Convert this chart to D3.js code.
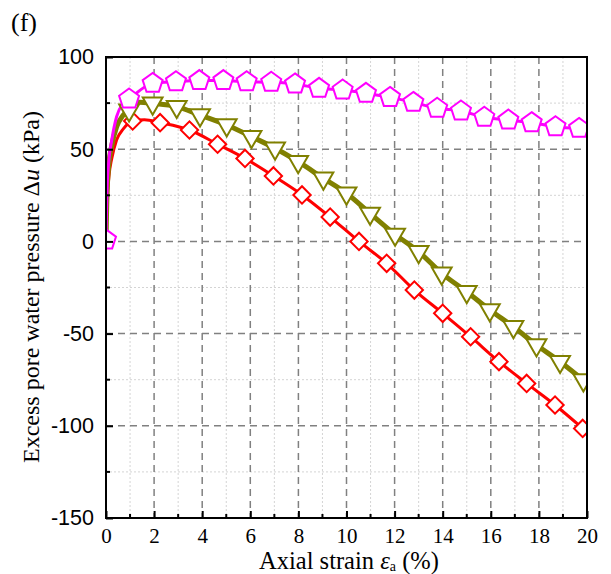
<!DOCTYPE html>
<html><head><meta charset="utf-8">
<script src="https://cdn.jsdelivr.net/npm/d3@7"></script>
<style>body{margin:0;background:#fff}svg{display:block}</style>
</head><body>
<script>
// ---- data ----
const xTicks = [0,2,4,6,8,10,12,14,16,18,20];
const yTicks = [-150,-100,-50,0,50,100];

// magenta pentagons
const magStartX = [0, 0.02, 0.05, 0.12, 0.24, 0.44, 0.72];
const magStartY = [0.8, 15, 30, 44, 55, 67.6, 74.9];
const magX = [0, 0.96, 1.94, 2.91, 3.88, 4.88, 5.85, 6.87, 7.86, 8.86, 9.84, 10.81, 11.81, 12.78, 13.77, 14.76, 15.73, 16.73, 17.7, 18.69, 19.67];
const magY = [0.8, 77.2, 85.7, 86.6, 87.2, 87.2, 86.6, 86.3, 85.4, 83.0, 82.1, 80.3, 78.1, 75.4, 72.2, 70.7, 67.3, 65.8, 64.4, 62.2, 61.3];

// olive triangles
const oliStartX = [0, 0.02, 0.05, 0.12, 0.24, 0.44, 0.72, 0.96, 1.4];
const oliStartY = [-2, 14, 28, 42, 52, 62, 68.5, 71.5, 75.5];
const oliX = [0.96, 1.94, 2.94, 3.91, 5.02, 6.05, 7.03, 7.99, 9.04, 10.0, 10.98, 12.02, 13.0, 13.96, 15.0, 15.96, 16.94, 17.9, 18.88, 19.85];
const oliY = [71.2, 74.9, 73.1, 68.5, 63.1, 56.8, 50.5, 43.2, 34.2, 26.1, 15.2, 3.8, -5.6, -17.3, -27.3, -37.2, -46.3, -56.2, -65.2, -75.2];

// red diamonds
const redStartX = [0, 0.02, 0.05, 0.12, 0.24, 0.44, 0.72, 1.11, 1.6];
const redStartY = [0, 10, 22, 35, 45, 55, 61, 65.3, 66];
const redX = [1.11, 2.25, 3.47, 4.64, 5.78, 6.96, 8.15, 9.32, 10.52, 11.67, 12.82, 14.0, 15.16, 16.34, 17.49, 18.67, 19.82];
const redY = [65.3, 64.4, 60.4, 52.7, 45.0, 35.5, 25.2, 13.2, 0, -11.9, -26.4, -39.0, -51.7, -65.2, -77.0, -88.7, -101.4];

// ---- layout ----
const W = 611, H = 574;
const L = 106, R = 587, T = 57, B = 518;
const svg = d3.select("body").append("svg").attr("width", W).attr("height", H);
const x = d3.scaleLinear().domain([0,20]).range([L,R]);
const y = d3.scaleLinear().domain([-150,100]).range([B,T]);

// grid
const g = svg.append("g");
const minorX = d3.range(1,20,2), minorY = d3.range(-125,100,50);
g.selectAll(".mx").data(minorX).enter().append("line")
  .attr("x1", d=>x(d)).attr("x2", d=>x(d)).attr("y1", T).attr("y2", B)
  .attr("stroke","#d4d4d4").attr("stroke-width",1).attr("stroke-dasharray","2,2");
g.selectAll(".my").data(minorY).enter().append("line")
  .attr("y1", d=>y(d)).attr("y2", d=>y(d)).attr("x1", L).attr("x2", R)
  .attr("stroke","#d4d4d4").attr("stroke-width",1).attr("stroke-dasharray","2,2");
g.selectAll(".Mx").data(xTicks.slice(1,-1)).enter().append("line")
  .attr("x1", d=>x(d)).attr("x2", d=>x(d)).attr("y1", T).attr("y2", B)
  .attr("stroke","#808080").attr("stroke-width",1.5).attr("stroke-dasharray","7,5");
g.selectAll(".My").data(yTicks.slice(1,-1)).enter().append("line")
  .attr("y1", d=>y(d)).attr("y2", d=>y(d)).attr("x1", L).attr("x2", R)
  .attr("stroke","#808080").attr("stroke-width",1.5).attr("stroke-dasharray","7,5");

// series
svg.append("clipPath").attr("id","c").append("rect")
  .attr("x", L).attr("y", T).attr("width", R-L).attr("height", B-T);
const plot = svg.append("g").attr("clip-path","url(#c)");
const line = d3.line().x(d=>x(d[0])).y(d=>y(d[1])).curve(d3.curveMonotoneX);

function pts(sx, sy, mx, my){
  const a = sx.map((v,i)=>[v, sy[i]]);
  const last = sx[sx.length-1];
  mx.forEach((v,i)=>{ if (v > last) a.push([v, my[i]]); });
  return a;
}
const series = [
  {sx:redStartX, sy:redStartY, mx:redX, my:redY, color:"#ff0000", lw:3, sym:d3.symbolSquare, size:150, rot:45},
  {sx:oliStartX, sy:oliStartY, mx:oliX, my:oliY, color:"#808000", lw:5, sym:d3.symbolTriangle, size:170, rot:180},
  {sx:magStartX, sy:magStartY, mx:magX, my:magY, color:"#ff00ff", lw:3, sym:null, size:0, rot:0}
];
function pentagon(r){
  const p = d3.path();
  for (let i=0;i<5;i++){
    const a = -Math.PI/2 + i*2*Math.PI/5;
    const px = r*Math.cos(a), py = r*Math.sin(a);
    if (i===0) p.moveTo(px,py); else p.lineTo(px,py);
  }
  p.closePath();
  return p.toString();
}
series.forEach(s=>{
  plot.append("path").datum(pts(s.sx,s.sy,s.mx,s.my)).attr("d", line)
    .attr("fill","none").attr("stroke", s.color).attr("stroke-width", s.lw).attr("stroke-linejoin","round");
});
series.forEach(s=>{
  const dpath = s.sym ? d3.symbol().type(s.sym).size(s.size)() : pentagon(10.5);
  plot.selectAll(null).data(s.mx.map((v,i)=>[v, s.my[i]])).enter().append("path")
    .attr("d", dpath)
    .attr("transform", d=>`translate(${x(d[0])},${y(d[1])}) rotate(${s.rot})`)
    .attr("fill","#fff").attr("stroke", s.color).attr("stroke-width", 2);
});

// frame
svg.append("rect").attr("x", L).attr("y", T).attr("width", R-L).attr("height", B-T)
  .attr("fill","none").attr("stroke","#000").attr("stroke-width",2);

const serif = "'Liberation Serif', 'Times New Roman', serif";
const sans = "'Liberation Sans', Arial, sans-serif";

// ticks (inward)
const ax = svg.append("g").attr("transform",`translate(0,${B})`)
  .call(d3.axisBottom(x).tickValues(xTicks).tickSizeInner(-7).tickSizeOuter(0).tickPadding(10.5));
ax.select(".domain").remove();
ax.selectAll(".tick line").attr("stroke","#000").attr("stroke-width",2);
ax.selectAll("text").attr("font-family", serif).attr("font-size",21).attr("fill","#000");
svg.append("g").selectAll("line").data(minorX).enter().append("line")
  .attr("x1", d=>x(d)).attr("x2", d=>x(d)).attr("y1", B).attr("y2", B-4)
  .attr("stroke","#000").attr("stroke-width",2);

const ay = svg.append("g").attr("transform",`translate(${L},0)`)
  .call(d3.axisLeft(y).tickValues(yTicks).tickSizeInner(-7).tickSizeOuter(0).tickPadding(12)
    .tickFormat(d => String(d)));
ay.select(".domain").remove();
ay.selectAll(".tick line").attr("stroke","#000").attr("stroke-width",2);
ay.selectAll("text").attr("font-family", sans).attr("font-size",21.5).attr("fill","#000");
svg.append("g").selectAll("line").data(minorY).enter().append("line")
  .attr("y1", d=>y(d)).attr("y2", d=>y(d)).attr("x1", L).attr("x2", L+4)
  .attr("stroke","#000").attr("stroke-width",2);

// titles
const xt = svg.append("text").attr("x", 349).attr("y", 569).attr("text-anchor","middle")
  .attr("font-family", serif).attr("font-size", 24.5).attr("fill","#000");
xt.append("tspan").text("Axial strain ");
xt.append("tspan").attr("font-style","italic").text("ε");
xt.append("tspan").attr("font-size",14).attr("dy",2).text("a");
xt.append("tspan").attr("dy",-2).text(" (%)");

const yt = svg.append("text").attr("transform","translate(39,287) rotate(-90)").attr("text-anchor","middle")
  .attr("font-family", serif).attr("font-size", 24).attr("fill","#000");
yt.append("tspan").text("Excess pore water pressure Δ");
yt.append("tspan").attr("font-style","italic").text("u");
yt.append("tspan").text(" (kPa)");

svg.append("text").attr("x", 11).attr("y", 31).attr("font-family", serif).attr("font-size", 26).text("(f)");
</script>
</body></html>
